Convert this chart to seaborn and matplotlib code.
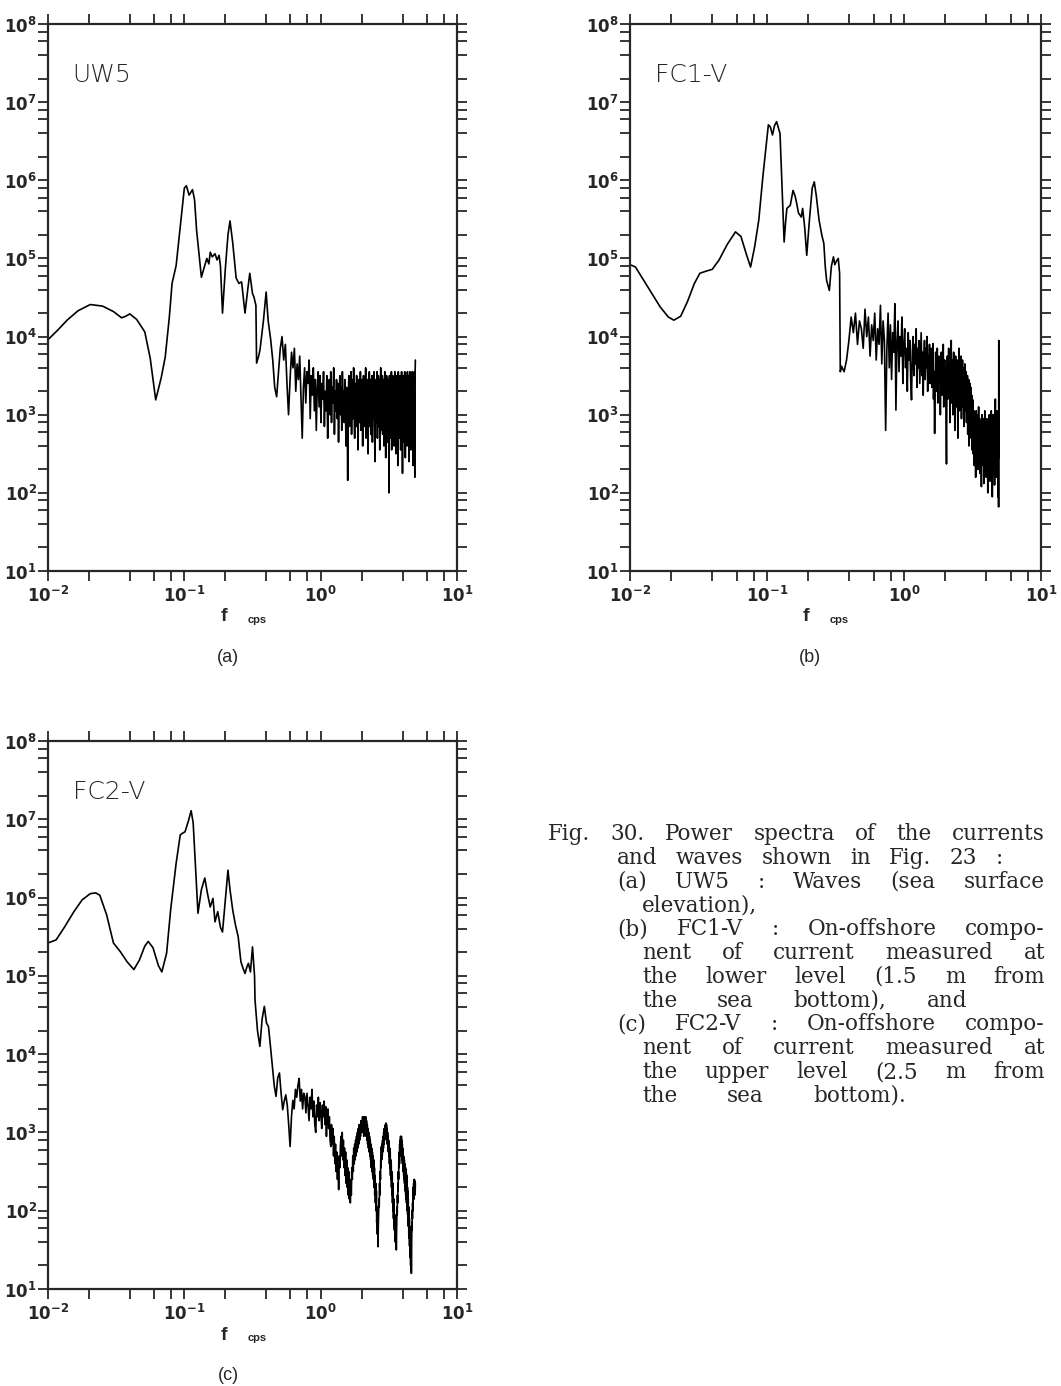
import numpy as np
import pandas as pd
import seaborn as sns
import matplotlib.pyplot as plt
from matplotlib.ticker import LogLocator, FuncFormatter, NullFormatter

# ==========================================
# DATA (log10 f [cps], log10 power)
# ==========================================
# (a) UW5 - smooth low-frequency part
uw5_logf = [-2.00, -1.93, -1.86, -1.78, -1.69, -1.60, -1.52, -1.46, -1.43, -1.40,
            -1.35, -1.29, -1.25, -1.21, -1.17, -1.14, -1.11, -1.09, -1.06, -1.03,
            -1.00, -0.985, -0.965, -0.94, -0.925, -0.91, -0.875, -0.85, -0.835, -0.82,
            -0.81, -0.795, -0.775, -0.76, -0.745, -0.735, -0.72, -0.70, -0.68, -0.665,
            -0.645, -0.62, -0.60, -0.58, -0.555, -0.535, -0.52, -0.50, -0.49, -0.475,
            -0.47, -0.455, -0.445, -0.42, -0.40, -0.385]
uw5_logp = [3.96, 4.08, 4.21, 4.33, 4.41, 4.39, 4.32, 4.24, 4.26, 4.29,
            4.22, 4.06, 3.72, 3.19, 3.47, 3.74, 4.25, 4.68, 4.91, 5.40,
            5.90, 5.93, 5.81, 5.88, 5.75, 5.36, 4.76, 4.91, 5.00, 4.93,
            5.08, 5.02, 5.06, 4.98, 5.04, 4.90, 4.30, 4.85, 5.30, 5.48,
            5.20, 4.75, 4.68, 4.70, 4.30, 4.60, 4.81, 4.55, 4.51, 4.40,
            3.66, 3.75, 3.83, 4.20, 4.57, 4.20]
# (a) UW5 - noisy part on FFT bins between these frequencies
uw5_band = (0.43, 4.95)
uw5_noise = [3.96, 3.70, 3.35, 3.23, 3.55, 3.85, 4.00, 3.70, 3.90, 3.40, 3.00, 3.45, 3.80, 3.60, 3.85, 3.30, 3.65, 3.45, 3.75, 3.20,
             2.70, 3.35, 3.60, 3.15, 3.55, 3.40, 3.70, 2.95, 3.50, 3.25, 3.60, 3.05, 3.45, 2.80, 3.35, 3.55, 3.10, 3.50, 2.90, 3.40,
             3.20, 3.55, 2.85, 3.30, 3.05, 3.50, 2.70, 3.25, 3.45, 3.00, 3.55, 2.90, 3.35, 3.15, 3.60, 2.75, 3.30, 3.05, 3.45, 2.95,
             3.40, 2.65, 3.25, 3.50, 3.00, 3.35, 2.80, 3.55, 3.10, 3.30, 2.90, 3.45, 3.15, 2.60, 3.35, 3.00, 2.16, 3.20, 3.50, 2.85,
             3.30, 3.05, 3.55, 2.75, 3.25, 3.45, 2.95, 3.60, 3.05, 2.70, 3.40, 3.20, 2.85, 3.50, 3.00, 3.35, 2.55, 3.25, 3.45, 2.90,
             3.15, 3.55, 2.80, 3.30, 3.00, 3.45, 2.60, 3.20, 3.50, 3.05, 2.85, 3.40, 3.15, 3.60, 2.70, 3.25, 2.95, 3.45, 3.10, 2.50,
             3.35, 3.00, 3.55, 2.85, 3.20, 3.45, 2.75, 3.30, 3.05, 3.50, 2.65, 3.25, 3.40, 2.95, 3.55, 3.10, 2.80, 2.40, 3.30, 3.05,
             3.45, 2.90, 3.20, 3.55, 2.70, 3.35, 3.00, 3.50, 2.85, 3.25, 3.45, 2.55, 3.30, 3.05, 3.60, 2.80, 3.15, 3.40, 2.95, 3.50,
             2.75, 3.25, 3.05, 3.45, 2.60, 3.35, 3.10, 3.55, 2.85, 3.20, 2.45, 3.40, 3.00, 3.50, 2.90, 3.30, 2.65, 3.45, 3.15, 2.80,
             3.35, 2.00, 3.25, 3.50, 2.85, 3.10, 3.45, 2.70, 3.30, 3.00, 3.55, 2.55, 3.20, 3.40, 2.90, 3.50, 2.75, 3.25, 3.05, 3.45,
             2.60, 3.35, 3.00, 3.55, 2.80, 3.20, 3.45, 2.50, 3.30, 3.10, 3.50, 2.85, 3.25, 2.95, 3.40, 2.35, 3.15, 3.55, 2.90, 3.30,
             3.05, 3.45, 2.70, 3.25, 3.50, 2.85, 3.35, 2.55, 3.20, 3.45, 3.00, 3.55, 2.75, 3.30, 3.10, 2.25, 3.40, 2.95, 3.50, 2.80,
             3.25, 3.45, 2.65, 3.35, 3.05, 3.55, 2.90, 3.20, 2.45, 3.40, 3.10, 3.50, 2.80, 3.30, 3.00, 3.45, 2.60, 3.25, 3.55, 2.85,
             3.15, 3.40, 2.70, 3.50, 2.95, 3.30, 2.40, 3.20, 3.45, 3.05, 3.55, 2.75, 3.35, 2.90, 3.45, 2.55, 3.25, 3.50, 3.00, 2.80,
             3.40, 3.10, 3.55, 2.65, 3.30, 2.95, 3.45, 2.35, 3.20, 3.50, 2.85, 3.35, 3.05, 3.55, 2.60, 3.25, 2.20, 3.45, 3.60, 3.70]

# (b) FC1-V
fc1_logf = [-2.00, -1.96, -1.90, -1.84, -1.78, -1.72, -1.68, -1.63, -1.58, -1.53,
            -1.49, -1.44, -1.40, -1.35, -1.29, -1.23, -1.19, -1.15, -1.12, -1.09,
            -1.06, -1.03, -0.99, -0.975, -0.96, -0.945, -0.93, -0.905, -0.89, -0.875,
            -0.865, -0.855, -0.83, -0.81, -0.795, -0.785, -0.77, -0.75, -0.74, -0.725,
            -0.71, -0.69, -0.67, -0.655, -0.64, -0.62, -0.60, -0.585, -0.575, -0.565,
            -0.545, -0.53, -0.515, -0.505, -0.495, -0.48, -0.47, -0.465]
fc1_logp = [4.92, 4.89, 4.72, 4.55, 4.38, 4.25, 4.21, 4.26, 4.45, 4.68,
            4.81, 4.84, 4.86, 4.98, 5.18, 5.34, 5.28, 5.05, 4.89, 5.15,
            5.49, 6.05, 6.71, 6.68, 6.58, 6.70, 6.75, 6.60, 5.90, 5.21,
            5.45, 5.64, 5.68, 5.87, 5.80, 5.72, 5.58, 5.53, 5.64, 5.40,
            5.04, 5.50, 5.90, 5.98, 5.80, 5.49, 5.30, 5.19, 4.90, 4.72,
            4.59, 4.90, 5.02, 4.92, 4.96, 5.00, 4.81, 3.55]
fc1_band = (0.35, 4.95)
fc1_noise = [3.62, 3.55, 3.70, 3.95, 4.25, 4.05, 4.30, 3.90, 4.20, 4.10, 3.85, 4.35, 4.00, 4.25, 3.75, 4.15, 3.95, 4.30, 3.70, 4.10,
             3.90, 4.40, 3.65, 4.20, 3.95, 2.80, 3.85, 4.30, 3.60, 4.15, 3.45, 4.05, 3.80, 4.42, 3.06, 3.95, 4.20, 3.55, 4.00, 3.75,
             4.25, 3.40, 3.90, 4.10, 3.60, 3.85, 3.30, 4.05, 3.70, 3.95, 3.45, 3.19, 3.80, 4.00, 3.50, 3.90, 3.65, 4.10, 3.35, 3.85,
             3.60, 3.95, 3.40, 3.75, 4.05, 3.50, 3.80, 3.25, 3.70, 3.95, 3.45, 3.85, 3.60, 4.00, 3.30, 3.75, 3.55, 3.90, 3.40, 3.70,
             3.85, 3.35, 3.65, 3.91, 3.20, 3.55, 2.76, 3.45, 3.80, 3.30, 3.60, 3.85, 3.15, 3.50, 3.75, 3.40, 3.65, 3.00, 3.55, 3.80,
             3.25, 3.60, 3.45, 3.90, 3.10, 3.50, 3.70, 3.35, 3.60, 3.05, 2.37, 3.40, 3.75, 3.20, 3.55, 3.85, 3.30, 3.50, 2.90, 3.65,
             3.40, 3.95, 3.15, 3.55, 3.70, 3.00, 3.45, 3.80, 3.25, 3.60, 2.80, 3.50, 3.75, 3.35, 3.55, 3.10, 3.70, 3.40, 2.70, 3.60,
             3.30, 3.85, 3.05, 3.50, 3.65, 3.20, 3.45, 3.75, 2.95, 3.55, 3.35, 3.70, 3.10, 3.45, 3.60, 2.85, 3.50, 3.30, 3.65, 3.05,
             3.45, 3.20, 3.55, 2.90, 3.40, 3.25, 3.50, 2.75, 3.35, 3.10, 3.45, 2.60, 3.30, 3.00, 3.40, 2.85, 3.20, 3.35, 2.70, 3.15,
             3.25, 2.55, 3.10, 2.90, 3.19, 2.50, 2.95, 2.70, 3.05, 2.35, 2.85, 3.00, 2.55, 2.90, 2.20, 2.80, 3.05, 2.60, 2.85, 2.40,
             3.00, 2.65, 2.90, 2.30, 2.75, 3.10, 2.50, 2.85, 2.65, 2.95, 2.25, 2.70, 2.90, 2.45, 2.80, 2.60, 2.08, 2.75, 3.00, 2.55,
             2.85, 2.35, 2.70, 2.95, 2.50, 2.80, 2.12, 2.65, 2.90, 2.45, 3.05, 2.60, 2.30, 2.80, 2.55, 2.95, 2.20, 2.70, 2.85, 2.40,
             2.90, 2.55, 2.75, 2.00, 2.65, 2.95, 2.45, 2.80, 2.30, 2.70, 3.00, 2.50, 2.85, 2.15, 2.65, 2.90, 2.40, 2.75, 2.55, 3.05,
             2.35, 2.80, 2.60, 2.95, 1.95, 2.70, 2.85, 2.45, 3.00, 2.55, 2.75, 2.25, 2.90, 2.60, 2.80, 2.10, 2.70, 2.95, 2.50, 3.20,
             2.35, 2.85, 2.60, 2.75, 2.20, 2.90, 2.55, 3.05, 2.40, 2.80, 2.65, 2.95, 1.95, 2.70, 2.50, 2.85, 1.82, 3.95, 2.60, 2.45]

# (c) FC2-V
fc2_logf = [-2.00, -1.94, -1.88, -1.81, -1.75, -1.69, -1.65, -1.62, -1.57, -1.52,
            -1.47, -1.42, -1.37, -1.33, -1.29, -1.265, -1.23, -1.19, -1.165, -1.13,
            -1.10, -1.06, -1.03, -1.015, -0.995, -0.97, -0.95, -0.935, -0.915, -0.90,
            -0.875, -0.85, -0.83, -0.81, -0.79, -0.775, -0.755, -0.735, -0.72, -0.70,
            -0.68, -0.665, -0.645, -0.625, -0.605, -0.585, -0.57, -0.555, -0.54, -0.53,
            -0.515, -0.50, -0.485]
fc2_logp = [5.42, 5.46, 5.62, 5.82, 5.97, 6.05, 6.06, 6.03, 5.78, 5.42,
            5.31, 5.18, 5.08, 5.20, 5.38, 5.44, 5.36, 5.13, 5.05, 5.29,
            5.85, 6.44, 6.80, 6.82, 6.84, 6.98, 7.11, 6.95, 6.30, 5.80,
            6.10, 6.25, 6.05, 5.88, 5.99, 5.69, 5.82, 5.62, 5.56, 5.95,
            6.35, 6.10, 5.84, 5.65, 5.50, 5.18, 5.10, 5.03, 5.12, 5.16,
            5.05, 5.37, 5.00]
fc2_band = (0.33, 4.95)
fc2_noise = [4.69, 4.30, 4.10, 4.45, 4.61, 4.40, 4.35, 4.10, 3.84, 3.60, 3.46, 3.70, 3.76, 3.50, 3.29, 3.40, 3.48, 3.35, 3.10, 2.82,
             3.20, 3.41, 3.30, 3.55, 3.45, 3.60, 3.69, 3.40, 3.55, 3.30, 3.50, 3.46, 3.25, 3.50, 3.35, 3.15, 3.45, 3.30, 3.55, 3.20,
             3.40, 3.10, 3.00, 3.35, 3.20, 3.45, 3.15, 3.38, 3.25, 3.05, 3.35, 3.20, 3.40, 3.10, 3.33, 2.95, 3.25, 3.30, 3.05, 3.20,
             2.90, 2.82, 3.10, 2.85, 3.05, 2.70, 2.95, 2.60, 2.85, 2.50, 2.75, 2.40, 2.60, 2.27, 2.70, 2.55, 2.85, 2.95, 2.70, 3.00,
             2.65, 2.90, 2.55, 2.80, 2.45, 2.75, 2.35, 2.65, 2.30, 2.55, 2.20, 2.50, 2.15, 2.40, 2.10, 2.35, 2.20, 2.55, 2.40, 2.70,
             2.50, 2.80, 2.60, 2.85, 2.65, 2.90, 2.70, 2.95, 2.75, 3.00, 2.80, 3.05, 2.85, 3.10, 2.90, 3.10, 2.95, 3.15, 3.00, 3.15,
             3.00, 3.20, 3.05, 3.15, 2.95, 3.20, 3.05, 3.18, 3.00, 3.20, 2.95, 3.15, 2.90, 3.10, 2.85, 3.05, 2.80, 3.00, 2.75, 2.95,
             2.70, 2.90, 2.65, 2.85, 2.55, 2.80, 2.50, 2.75, 2.45, 2.70, 2.40, 2.65, 2.30, 2.55, 2.20, 2.45, 2.10, 2.35, 2.00, 2.25,
             1.85, 2.05, 1.70, 1.90, 1.54, 1.80, 1.95, 2.15, 2.05, 2.35, 2.20, 2.50, 2.40, 2.65, 2.55, 2.82, 2.65, 2.85, 2.70, 2.90,
             2.75, 2.95, 2.80, 3.00, 2.85, 3.05, 2.90, 3.08, 2.92, 3.10, 2.95, 3.12, 2.95, 3.10, 2.90, 3.05, 2.85, 3.00, 2.80, 2.95,
             2.75, 2.90, 2.70, 2.85, 2.60, 2.80, 2.55, 2.75, 2.45, 2.65, 2.40, 2.60, 2.30, 2.50, 2.20, 2.45, 2.10, 2.35, 2.00, 2.25,
             1.90, 2.15, 1.80, 2.05, 1.75, 1.95, 1.65, 1.90, 1.60, 1.80, 1.55, 1.75, 1.50, 1.70, 1.85, 2.05, 1.95, 2.20, 2.10, 2.35,
             2.25, 2.50, 2.40, 2.65, 2.55, 2.75, 2.60, 2.85, 2.70, 2.90, 2.75, 2.95, 2.80, 2.92, 2.75, 2.95, 2.70, 2.90, 2.65, 2.85,
             2.60, 2.80, 2.55, 2.75, 2.50, 2.70, 2.45, 2.68, 2.40, 2.65, 2.35, 2.60, 2.30, 2.58, 2.25, 2.55, 2.20, 2.52, 2.15, 2.48,
             2.10, 2.45, 2.05, 2.40, 2.00, 2.30, 1.95, 2.25, 1.85, 2.15, 1.80, 2.05, 1.70, 1.95, 1.65, 1.90, 1.55, 1.80, 1.45, 1.75,
             1.40, 1.65, 1.30, 1.55, 1.25, 1.45, 1.20, 1.50, 1.65, 1.85, 1.75, 2.00, 1.90, 2.10, 2.00, 2.20, 2.10, 2.30, 2.15, 2.35,
             2.20, 2.39, 2.15, 2.40, 2.25, 2.38, 2.20, 2.35, 2.25, 2.35]

panel_names = ["UW5", "FC1-V", "FC2-V"]
panel_tags = ["(a)", "(b)", "(c)"]

caption_lines = [
    "Fig. 30. Power spectra of the currents",
    "and waves shown in Fig. 23 :",
    "(a) UW5 : Waves (sea surface",
    "elevation),",
    "(b) FC1-V : On-offshore compo-",
    "nent of current measured at",
    "the lower level (1.5 m from",
    "the sea bottom), and",
    "(c) FC2-V : On-offshore compo-",
    "nent of current measured at",
    "the upper level (2.5 m from",
    "the sea bottom).",
]
caption_left = [548, 617, 617, 642, 617, 642, 642, 642, 617, 642, 642, 642]
caption_right = [1045, 1003, 1045, 742, 1045, 1045, 1045, 967, 1045, 1045, 1045, 906]


def spectrum_frame(logf, logp, band, noise):
    # FFT bins of the noisy part are evenly spaced in frequency
    f_bins = np.linspace(band[0], band[1], len(noise))
    f = np.concatenate([10 ** np.array(logf), f_bins])
    p = np.concatenate([10 ** np.array(logp), 10 ** np.array(noise)])
    return pd.DataFrame({"f": f, "P": p})


# ==========================================
# FIGURE
# ==========================================
W, H = 1061, 1386
sns.set_style("ticks")
plt.rcParams['font.family'] = ['Liberation Sans', 'DejaVu Sans']
plt.rcParams['mathtext.fontset'] = 'dejavusans'

fig = plt.figure(figsize=(W / 100, H / 100), dpi=100)


def px_box(x0, y0, x1, y1):
    return [x0 / W, 1 - y1 / H, (x1 - x0) / W, (y1 - y0) / H]


boxes = [px_box(48, 24, 457, 571), px_box(630, 24, 1041, 571), px_box(48, 741, 457, 1289)]
frames = [spectrum_frame(uw5_logf, uw5_logp, uw5_band, uw5_noise),
          spectrum_frame(fc1_logf, fc1_logp, fc1_band, fc1_noise),
          spectrum_frame(fc2_logf, fc2_logp, fc2_band, fc2_noise)]

exp_fmt = FuncFormatter(lambda v, pos: r'$\mathbf{10^{%d}}$' % int(round(np.log10(v))))

for box, df, name, tag in zip(boxes, frames, panel_names, panel_tags):
    ax = fig.add_axes(box)
    ax.set_xscale('log')
    ax.set_yscale('log')
    sns.lineplot(data=df, x='f', y='P', ax=ax, color='black', lw=1.2,
                 sort=False, estimator=None)
    ax.set_xlim(1e-2, 1e1)
    ax.set_ylim(1e1, 1e8)
    ax.set_xlabel('')
    ax.set_ylabel('')

    for axis in (ax.xaxis, ax.yaxis):
        axis.set_major_locator(LogLocator(base=10, numticks=20))
        axis.set_minor_locator(LogLocator(base=10, subs=(2, 4, 6, 8), numticks=100))
        axis.set_major_formatter(exp_fmt)
        axis.set_minor_formatter(NullFormatter())
    ax.tick_params(which='both', direction='out', length=7, width=1.3,
                   top=True, right=True, labeltop=False, labelright=False)
    ax.tick_params(axis='y', pad=1, labelsize=12)
    ax.tick_params(axis='x', pad=3, labelsize=12)
    for sp in ax.spines.values():
        sp.set_linewidth(1.6)
        sp.set_visible(True)

    ax.text(0.06, 0.928, name, transform=ax.transAxes, fontsize=18,
            family='DejaVu Sans', fontweight='light', ha='left', va='top')

    # axis label "f  cps" and panel tag below
    x0 = box[0] * W
    y_bot = (1 - box[1]) * H
    fig.text((x0 + 176) / W, 1 - (y_bot + 46) / H, 'f', fontsize=14,
             fontweight='bold', ha='center', va='center')
    fig.text((x0 + 209) / W, 1 - (y_bot + 49) / H, 'cps', fontsize=8,
             fontweight='bold', ha='center', va='center')
    fig.text((x0 + 180) / W, 1 - (y_bot + 87) / H, tag,
             fontsize=13, ha='center', va='center')

# caption: words spread between the left and right edge of each printed line
renderer = fig.canvas.get_renderer()
for i, line in enumerate(caption_lines):
    items = []
    for w in line.split(' '):
        t = fig.text(0, 0, w, family='DejaVu Serif', fontsize=15.5, ha='left', va='center')
        items.append((t, t.get_window_extent(renderer).width))
    x = caption_left[i]
    span = caption_right[i] - x
    total = sum(wd for _, wd in items)
    gap = (span - total) / (len(items) - 1) if len(items) > 1 else 0
    gap = max(gap, 4)
    y = 834 + i * 23.8
    for t, wd in items:
        t.set_position((x / W, 1 - y / H))
        x += wd + gap

fig.savefig('out.png', dpi=100)
